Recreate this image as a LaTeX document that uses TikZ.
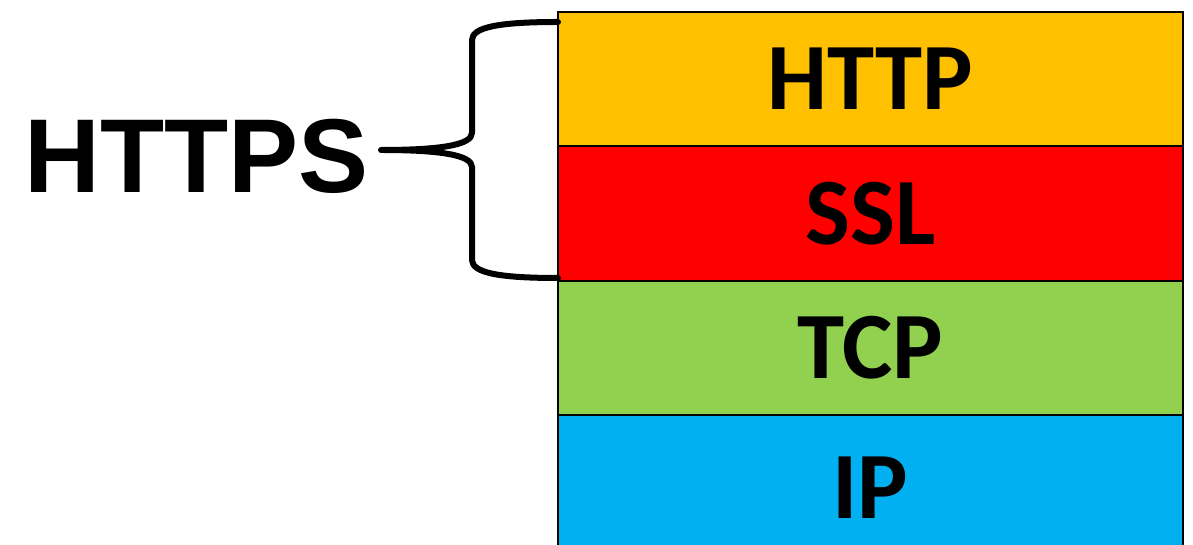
\documentclass[tikz,border=0pt]{standalone}
\usepackage{fontspec}
\newfontfamily\arialb[BoldFont={* Bold}]{Liberation Sans}
\newfontfamily\calib[BoldFont={* Bold}]{Carlito}
\definecolor{cHttp}{HTML}{FFC000}
\definecolor{cSsl}{HTML}{FF0000}
\definecolor{cTcp}{HTML}{92D050}
\definecolor{cIp}{HTML}{00B0F0}
\tikzset{
  layer/.style={draw=black, line width=2pt, minimum width=625pt, inner sep=0pt, outer sep=0pt,
    font=\calib\bfseries\fontsize{95}{95}\selectfont, text=black},
  bracestyle/.style={draw=black, line width=6pt, line cap=round, line join=round},
}
\begin{document}
\begin{tikzpicture}[x=1pt,y=1pt]
\useasboundingbox (0,0) rectangle (1193,545);
\fill[white] (0,0) rectangle (1193,545);
\begin{scope}
\clip (0,0) rectangle (1193,545);
\node[layer, fill=cHttp, minimum height=134pt] (http) at (870.5,466) {\raisebox{-3pt}{HTTP}};
\node[layer, fill=cSsl, minimum height=135pt] (ssl) at (870.5,331.5) {\raisebox{-3pt}{SSL}};
\node[layer, fill=cTcp, minimum height=134pt] (tcp) at (870.5,197) {\raisebox{-3pt}{TCP}};
\node[layer, fill=cIp, minimum height=150pt] (ip) at (870.5,55) {\raisebox{5pt}{IP}};
\end{scope}
\node[anchor=base west, inner sep=0pt, font=\arialb\bfseries\fontsize{105}{105}\selectfont] (https) at (24,352) {HTTPS};
\coordinate (btop) at (558,523);
\coordinate (bbot) at (558,267);
\coordinate (tip) at (381,395);
\draw[bracestyle] (btop) .. controls (500,523) and (472,518) .. (472,505)
  -- (472,412) .. controls (472,400) and (440,395) .. (tip)
  .. controls (440,395) and (472,390) .. (472,378)
  -- (472,285) .. controls (472,272) and (500,267) .. (bbot);
\end{tikzpicture}
\end{document}
